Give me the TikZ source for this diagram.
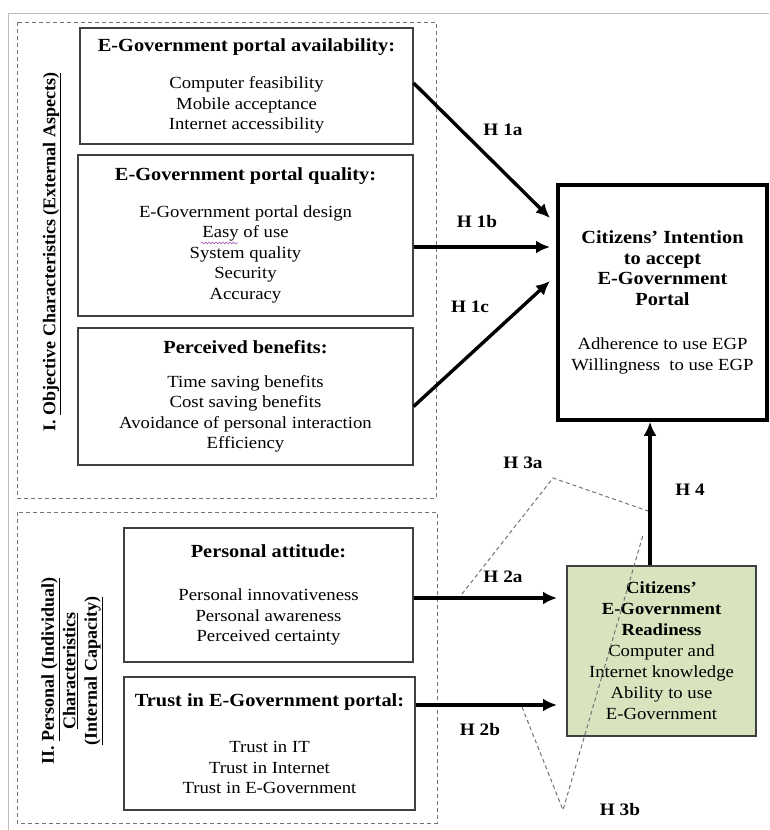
\documentclass[tikz,border=0pt]{standalone}
\usepackage{fontspec}
\setmainfont[FakeStretch=1.1]{Liberation Serif}
\newfontfamily\sideserif{Liberation Serif}
\usetikzlibrary{arrows.meta,decorations.pathmorphing}
\definecolor{ready}{RGB}{215,228,190}
\definecolor{frame}{RGB}{190,190,190}
\newcommand{\boxhead}[1]{{\bfseries\fontsize{18.5}{21}\selectfont #1}}

\begin{document}
\begin{tikzpicture}[x=1pt,y=-1pt,
    factor/.style={draw=black!75,line width=1.1pt,align=center,font=\fontsize{17}{20.5}\selectfont},
    group/.style={draw=black!55,dash pattern=on 4pt off 3pt,line width=1pt},
    hyp/.style={line width=3.4pt,-{Latex[length=14pt,width=13pt]}},
    hlabel/.style={font=\bfseries\fontsize{17.5}{20}\selectfont},
    moderate/.style={draw=black!55,dash pattern=on 4pt off 3pt,line width=1pt}]
    \useasboundingbox (0,0) rectangle (769,830);
    \draw[frame,line width=0.8pt] (8,830) -- (8,13) -- (769,13);
    % the two groups of factors
    \draw[group] (17,22) rectangle (436,498);
    \draw[group] (17,512) rectangle (437,823);
    \node[rotate=90,font=\sideserif\bfseries\fontsize{18}{21.5}\selectfont] (objlab) at (52,252) {I. \underline{Objective Characteristics (External Aspects)}};
    \node[rotate=90,align=center,font=\sideserif\bfseries\fontsize{18}{21.5}\selectfont] (perslab) at (72,671) {II. \underline{Personal (Individual)}\\\underline{Characteristics}\\\underline{(Internal Capacity)}};
    % factor boxes
    \node[factor,minimum width=333pt,minimum height=116pt] (avail) at (246.5,86) {\boxhead{E-Government portal availability:}\\[17pt]Computer feasibility\\Mobile acceptance\\Internet accessibility};
    \node[factor,minimum width=335pt,minimum height=161pt] (quality) at (245.5,235.5) {\boxhead{E-Government portal quality:}\\[16pt]E-Government portal design\\Easy of use\\System quality\\Security\\Accuracy};
    \node[factor,minimum width=335pt,minimum height=137pt] (benefit) at (245.5,396.5) {\boxhead{Perceived benefits:}\\[13pt]Time saving benefits\\Cost saving benefits\\Avoidance of personal interaction\\Efficiency};
    \node[factor,minimum width=289pt,minimum height=134pt] (attitude) at (268.5,595) {\boxhead{Personal attitude:}\\[23pt]Personal innovativeness\\Personal awareness\\Perceived certainty};
    \node[factor,minimum width=291pt,minimum height=133pt] (trust) at (269.5,743.5) {\boxhead{Trust in E-Government portal:}\\[26pt]Trust in IT\\Trust in Internet\\Trust in E-Government};
    \draw[decorate,decoration={snake,amplitude=0.9pt,segment length=3.5pt},blue!55!red!60,line width=0.7pt] (201,243) -- (238,243);
    % outcome boxes
    \node[draw,line width=3.6pt,align=center,minimum width=209pt,minimum height=235pt,font=\fontsize{17}{20.5}\selectfont] (intent) at (662.5,302.5) {\boxhead{Citizens' Intention}\\\boxhead{to accept}\\\boxhead{E-Government}\\\boxhead{Portal}\\[24pt]Adherence to use EGP\\Willingness\ \ to use EGP};
    \node[draw=black!75,fill=ready,line width=1.1pt,align=center,minimum width=189pt,minimum height=170pt,font=\fontsize{17}{21}\selectfont] (ready) at (661.5,651) {\textbf{Citizens'}\\\textbf{E-Government}\\\textbf{Readiness}\\Computer and\\Internet knowledge\\Ability to use\\E-Government};
    % hypotheses
    \coordinate (t1a) at (550,218);
    \coordinate (t1b) at (550,247);
    \coordinate (t1c) at (550,281);
    \coordinate (t2a) at (557,598);
    \coordinate (t2b) at (557,705);
    \coordinate (h4) at (650,0);
    \draw[hyp] ([yshift=3pt]avail.east) -- (t1a);
    \draw[hyp] (quality.east |- t1b) -- (t1b);
    \draw[hyp] ([yshift=-10pt]benefit.east) -- (t1c);
    \draw[hyp] (attitude.east |- t2a) -- (t2a);
    \draw[hyp] (trust.east |- t2b) -- (t2b);
    \draw[hyp] (ready.north -| h4) -- (intent.south -| h4);
    \draw[moderate] (462,594) -- (553,478) -- (648,511);
    \draw[moderate] (522,707) -- (563,810) -- (643,535);
    \node[hlabel] (l1a) at (503,130) {H 1a};
    \node[hlabel] (l1b) at (477,222) {H 1b};
    \node[hlabel] (l1c) at (470,307) {H 1c};
    \node[hlabel] (l3a) at (523,463) {H 3a};
    \node[hlabel] (l4) at (690,490) {H 4};
    \node[hlabel] (l2a) at (503,577) {H 2a};
    \node[hlabel] (l2b) at (480,730) {H 2b};
    \node[hlabel] (l3b) at (620,810) {H 3b};
\end{tikzpicture}
\end{document}
